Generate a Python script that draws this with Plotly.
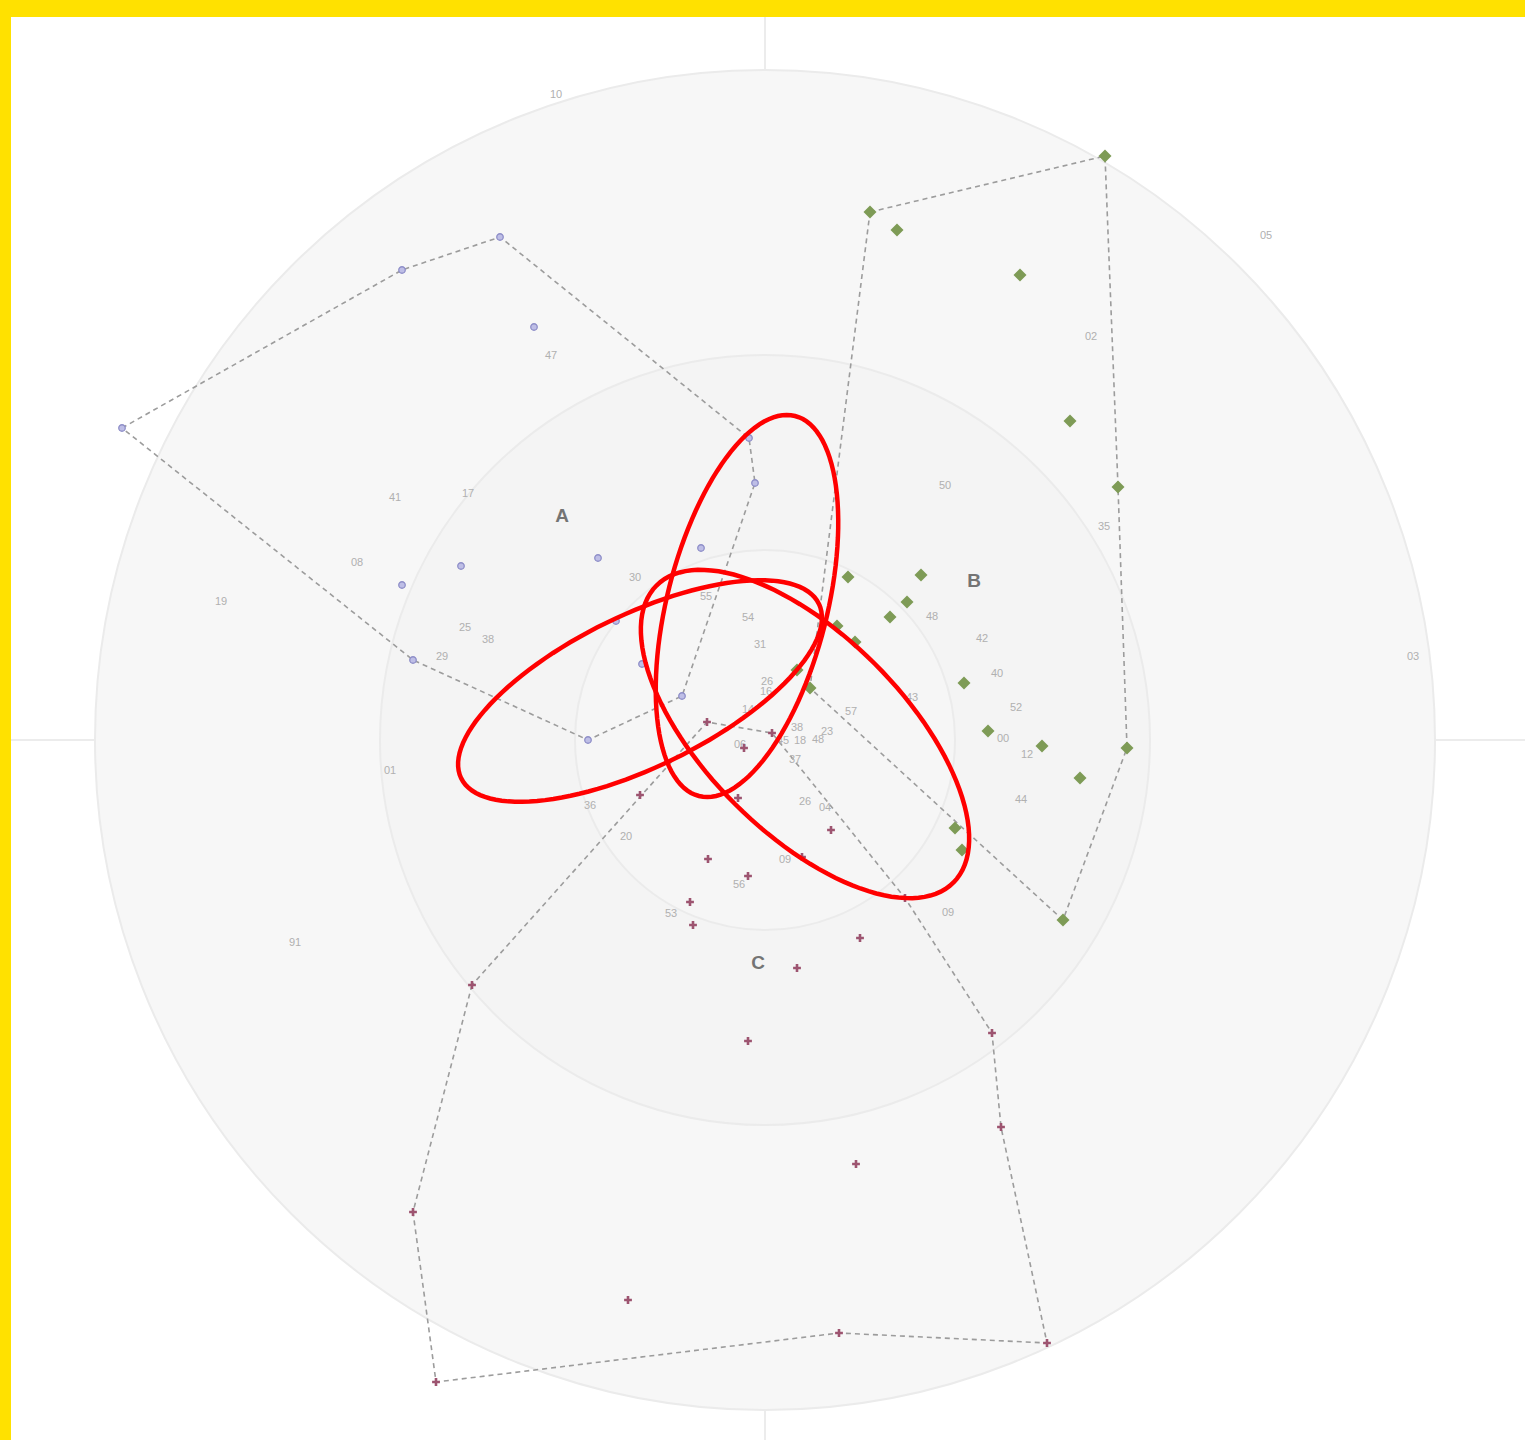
import numpy as np
import plotly.graph_objects as go

# ---------------- data (x right, y up; origin = chart centre) ----------------
a_x = [-643, -363, -265, -16, -10, -83, -177, -352, -231, -167, -64, -304, -363, -149, -123]
a_y = [312, 470, 503, 302, 257, 44, 0, 80, 413, 182, 192, 174, 155, 119, 76]
a_hull = [0, 1, 2, 3, 4, 5, 6, 7, 0]

b_x = [105, 340, 353, 362, 298, 45, 132, 255, 305, 83, 156, 142, 125, 72, 90, 32, 199, 223, 277, 315, 190, 197]
b_y = [528, 584, 253, -8, -180, 52, 510, 465, 319, 163, 165, 138, 123, 114, 98, 70, 57, 9, -6, -38, -88, -110]
b_hull = [0, 1, 2, 3, 4, 5, 0]

c_x = [-293, -352, -329, 74, 282, 236, 227, 7, -58, -125, -21, -57, -17, -75, -72, 66, 37, 95, 32, -17, 91, -137, 140, -27]
c_y = [-245, -472, -642, -593, -603, -387, -293, 7, 18, -55, -8, -119, -136, -162, -185, -90, -117, -198, -228, -301, -424, -560, -158, -58]
c_hull = [0, 1, 2, 3, 4, 5, 6, 22, 7, 8, 0]

label_text = ["10", "05", "02", "47", "03", "50", "35", "41", "17", "08", "19", "30", "55", "54", "31",
              "25", "38", "29", "48", "42", "40", "52", "00", "12", "44", "43", "57", "23", "48", "26",
              "16", "14", "38", "45", "18", "37", "06", "26", "04", "36", "20", "09", "56", "53", "09",
              "01", "91"]
label_x = [-209, 501, 326, -214, 648, 180, 339, -370, -297, -408, -544, -130, -59, -17, -5,
           -300, -277, -323, 167, 217, 232, 251, 238, 262, 256, 147, 86, 62, 53, 2,
           1, -17, 32, 18, 35, 30, -25, 40, 60, -175, -139, 20, -26, -94, 183,
           -375, -470]
label_y = [645, 504, 403, 384, 83, 254, 213, 242, 246, 177, 138, 162, 143, 122, 95,
           112, 100, 83, 123, 101, 66, 32, 1, -15, -60, 42, 28, 8, 0, 58,
           48, 30, 12, -1, -1, -20, -5, -62, -68, -66, -97, -120, -145, -174, -173,
           -31, -203]

group_names = ["A", "B", "C"]
group_x = [-203, 209, -7]
group_y = [223, 158, -224]

ring_radii = [670, 385, 190]

# highlight ellipses: centre x, centre y, semi-major, semi-minor, angle (deg)
ell_cx = [-18, -125, 40]
ell_cy = [134, 49, 6]
ell_a = [196, 199, 210]
ell_b = [80, 76, 99]
ell_ang = [75.8, 26, -45]

# ---------------- figure ----------------
fig = go.Figure()

ring_fill = ["#f7f7f7", "#f4f4f4", "#f6f6f6"]
shapes = []
for r, fc in zip(ring_radii, ring_fill):
    shapes.append(dict(type="circle", xref="x", yref="y", x0=-r, y0=-r, x1=r, y1=r,
                       fillcolor=fc, line=dict(color="#ebebeb", width=2), layer="below"))
# cross-hair lines
shapes.append(dict(type="line", xref="paper", yref="y", x0=0, x1=1, y0=0, y1=0,
                   line=dict(color="#ececec", width=2), layer="below"))
shapes.append(dict(type="line", xref="x", yref="paper", x0=0, x1=0, y0=0, y1=1,
                   line=dict(color="#ececec", width=2), layer="below"))

t = np.linspace(0, 2 * np.pi, 121)
for cx, cy, a, b, ang in zip(ell_cx, ell_cy, ell_a, ell_b, ell_ang):
    th = np.deg2rad(ang)
    ex = cx + a * np.cos(t) * np.cos(th) - b * np.sin(t) * np.sin(th)
    ey = cy + a * np.cos(t) * np.sin(th) + b * np.sin(t) * np.cos(th)
    path = "M " + " L ".join(f"{xx:.2f},{yy:.2f}" for xx, yy in zip(ex, ey)) + " Z"
    shapes.append(dict(type="path", xref="x", yref="y", path=path,
                       line=dict(color="#ff0000", width=4.5), layer="above"))

hull_style = dict(color="#9c9c9c", width=1.6, dash="5px,4px")
for xs, ys, hull in [(a_x, a_y, a_hull), (b_x, b_y, b_hull), (c_x, c_y, c_hull)]:
    fig.add_trace(go.Scatter(x=[xs[i] for i in hull], y=[ys[i] for i in hull], mode="lines",
                             line=hull_style, hoverinfo="skip", showlegend=False))

fig.add_trace(go.Scatter(x=label_x, y=label_y, text=label_text, mode="text",
                         textfont=dict(family="Liberation Sans", size=11, color="#b0b0b0"),
                         showlegend=False, hoverinfo="skip"))

fig.add_trace(go.Scatter(x=a_x, y=a_y, mode="markers", name="A",
                         marker=dict(symbol="circle", size=6.5, color="#bebee6",
                                     line=dict(color="#8e8ec8", width=1.3)), showlegend=False))
fig.add_trace(go.Scatter(x=b_x, y=b_y, mode="markers", name="B",
                         marker=dict(symbol="diamond", size=10, color="#7e9b56",
                                     line=dict(width=0)), showlegend=False))
fig.add_trace(go.Scatter(x=c_x, y=c_y, mode="markers", name="C",
                         marker=dict(symbol="cross", size=6.5, color="#9d5470",
                                     line=dict(width=0)), showlegend=False))

fig.add_trace(go.Scatter(x=group_x, y=group_y, text=["<b>" + g + "</b>" for g in group_names],
                         mode="text", textfont=dict(family="Liberation Sans", size=19, color="#747474"),
                         showlegend=False, hoverinfo="skip"))

fig.update_layout(
    width=1525, height=1440,
    margin=dict(l=11, r=0, t=17, b=0, pad=0),
    paper_bgcolor="#ffe100",
    plot_bgcolor="#ffffff",
    shapes=shapes,
    xaxis=dict(range=[-754, 760], visible=False, showgrid=False, zeroline=False, fixedrange=True),
    yaxis=dict(range=[-700, 723], visible=False, showgrid=False, zeroline=False, fixedrange=True),
    showlegend=False,
)

fig.write_html("out.html", config={"displayModeBar": False},
               post_script="document.body.style.margin='0';")
